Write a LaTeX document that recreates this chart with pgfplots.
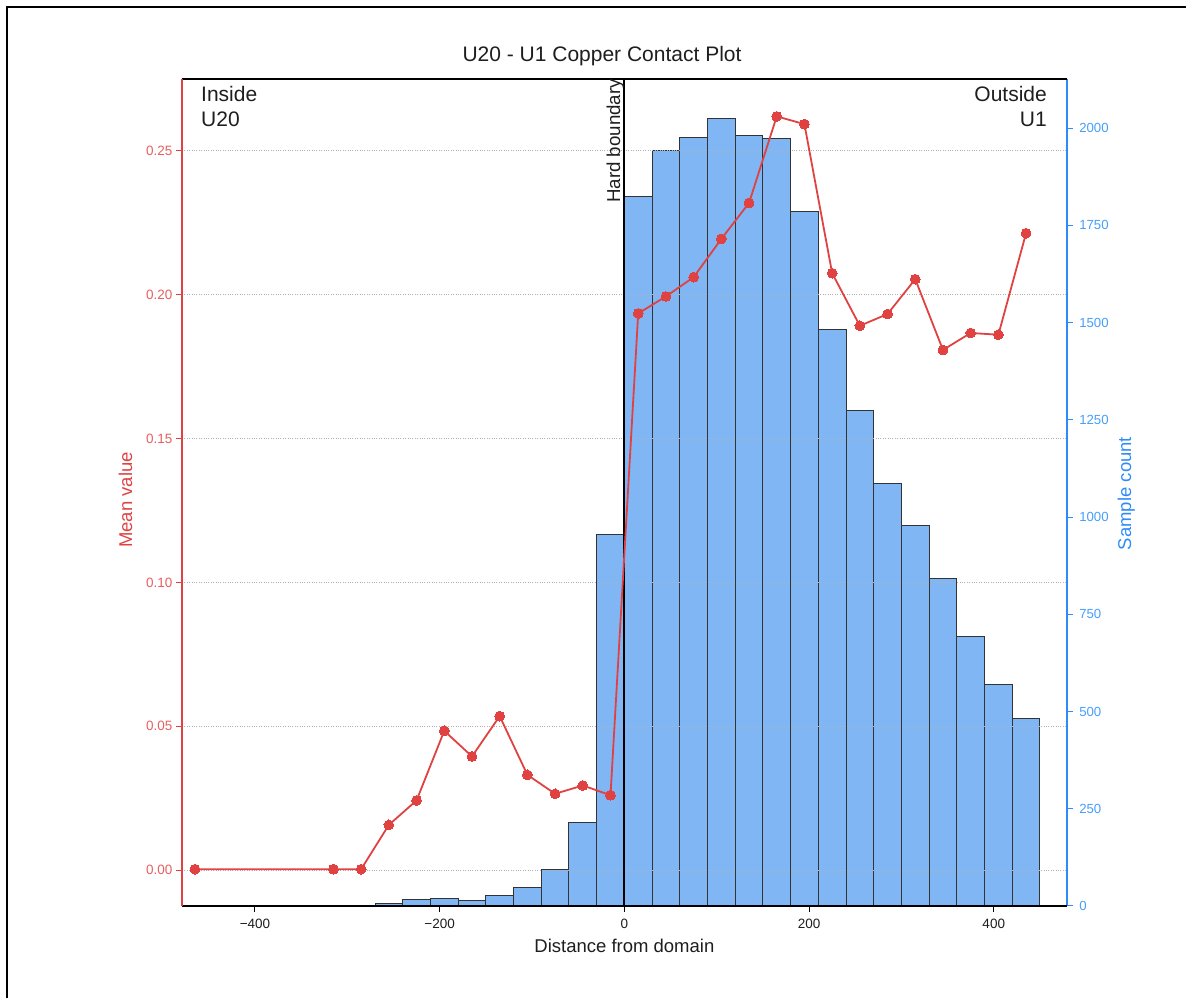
\documentclass[border=0pt]{standalone}
\usepackage{fontspec}
\setmainfont{Liberation Sans}
\usepackage{pgfplots}
\usepackage{pgfplotstable}
\pgfplotsset{compat=1.18}

\definecolor{meanred}{RGB}{224,66,66}
\definecolor{meanredlt}{RGB}{230,95,95}
\definecolor{cntblue}{RGB}{45,140,250}
\definecolor{cntbluelt}{RGB}{70,158,252}
\definecolor{barblue}{RGB}{128,182,244}
\definecolor{gridgray}{RGB}{178,178,178}
\definecolor{txt}{RGB}{30,30,30}

% histogram: left bin edges, last row closes the final bin
\pgfplotstableread{
x count
-270 6
-240 17
-210 20
-180 15
-150 26
-120 48
-90 94
-60 215
-30 955
0 1823
30 1943
60 1976
90 2025
120 1982
150 1973
180 1786
210 1482
240 1275
270 1086
300 977
330 843
360 692
390 569
420 481
450 481
}\counts

% mean value at bin centres
\pgfplotstableread{
x mean
-465 0.0003
-315 0.0003
-285 0.0003
-255 0.0157
-225 0.0242
-195 0.0484
-165 0.0395
-135 0.0535
-105 0.0331
-75 0.0265
-45 0.0294
-15 0.0260
15 0.1935
45 0.1994
75 0.2061
105 0.2194
135 0.2319
165 0.2620
195 0.2593
225 0.2075
255 0.1892
285 0.1933
315 0.2054
345 0.1808
375 0.1867
405 0.1861
435 0.2214
}\means

\begin{document}
\begin{tikzpicture}[x=1pt,y=1pt]
\path[use as bounding box] (0,0) rectangle (1186,998);
\draw[line width=2pt] (7,0) -- (7,991) -- (1186,991);

% sample count (right axis), drawn first
\begin{axis}[
    at={(182pt,92pt)}, anchor=south west,
    scale only axis, width=884.7pt, height=827pt,
    xmin=-479, xmax=479, ymin=0, ymax=2126,
    axis x line=none,
    axis y line*=right,
    y axis line style={cntblue, line width=1.6pt, -},
    ytick={0,250,500,750,1000,1250,1500,1750,2000},
    ytick style={cntblue, line width=1pt},
    tick align=outside, major tick length=6pt,
    yticklabel style={text=cntbluelt, font=\fontsize{13.2}{15}\selectfont, xshift=3pt},
    /pgf/number format/assume math mode=true,
    /pgf/number format/1000 sep={},
    scaled y ticks=false,
]
\addplot[ybar interval, fill=barblue, draw=black!80, line width=1pt] table[x=x, y=count]{\counts};
\end{axis}

% mean value (left axis)
\begin{axis}[
    at={(182pt,92pt)}, anchor=south west,
    scale only axis, width=884.7pt, height=827pt,
    xmin=-479, xmax=479, ymin=-0.0125, ymax=0.275,
    axis x line*=box, axis y line*=left,
    x axis line style={black, line width=1.6pt, -},
    y axis line style={meanred, line width=2pt, -},
    xtick={-400,-200,0,200,400},
    xticklabels={−400,−200,0,200,400},
    ytick={0,0.05,0.10,0.15,0.20,0.25},
    yticklabels={0.00,0.05,0.10,0.15,0.20,0.25},
    xtick pos=bottom, ytick pos=left,
    tick align=outside, major tick length=6pt,
    xtick style={black, line width=1pt},
    ytick style={meanred, line width=1pt},
    xticklabel style={text=txt, font=\fontsize{13.5}{16}\selectfont, yshift=-4pt},
    yticklabel style={text=meanredlt, font=\fontsize{13.5}{16}\selectfont},
    ymajorgrids, grid style={gridgray, dotted, line width=0.9pt},
]
\addplot[black, line width=1.8pt] coordinates {(0,-0.0125) (0,0.275)};
\addplot[meanred, line width=1.8pt, mark=*, mark size=4.9pt,
    mark options={fill=meanred, draw=meanred, line width=0pt}] table[x=x, y=mean]{\means};
\end{axis}

\node[anchor=base, inner sep=0, text=txt, font=\fontsize{21}{25}\selectfont] at (602,936) {U20 - U1 Copper Contact Plot};
\node[anchor=base west, inner sep=0, text=txt, font=\fontsize{21}{25}\selectfont] at (201,896) {Inside};
\node[anchor=base west, inner sep=0, text=txt, font=\fontsize{21}{25}\selectfont] at (201,871) {U20};
\node[anchor=base east, inner sep=0, text=txt, font=\fontsize{21}{25}\selectfont] at (1047,896) {Outside};
\node[anchor=base east, inner sep=0, text=txt, font=\fontsize{21}{25}\selectfont] at (1047,871) {U1};
\node[rotate=90, anchor=base east, inner sep=0, text=txt, font=\fontsize{18.7}{22}\selectfont] at (620,919) {Hard boundary};
\node[anchor=base, inner sep=0, text=txt, font=\fontsize{18.5}{22}\selectfont] at (624.4,45) {Distance from domain};
\node[rotate=90, anchor=base, inner sep=0, text=meanred, font=\fontsize{18.5}{22}\selectfont] at (132,498) {Mean value};
\node[rotate=90, anchor=base, inner sep=0, text=cntblue, font=\fontsize{18.5}{22}\selectfont] at (1131,504.5) {Sample count};
\end{tikzpicture}
\end{document}
